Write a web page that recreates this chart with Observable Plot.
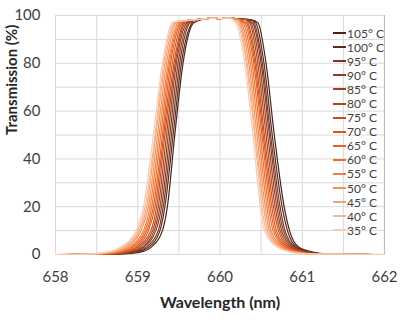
<!DOCTYPE html>
<html><head><meta charset="utf-8">
<script src="https://cdn.jsdelivr.net/npm/d3@7"></script>
<script src="https://cdn.jsdelivr.net/npm/@observablehq/plot@0.6"></script>
<style>
body{margin:0;background:#fff;font-family:Lato,"Open Sans",sans-serif;}
#wrap{position:relative;width:403px;height:327px;}
#legend{position:absolute;left:333px;top:26px;font-family:Lato,sans-serif;font-size:12px;color:#404040;}
#legend .row{height:14.1px;display:flex;align-items:center;}
#legend .sw{width:13px;height:2px;margin-right:1px;}
</style></head>
<body><div id="wrap"></div>
<script>
// Series labels (legend order) and colours
const temps = ["105° C","100° C","95° C","90° C","85° C","80° C","75° C","70° C","65° C","60° C","55° C","50° C","45° C","40° C","35° C"];
const colors = ["#4a2318","#5e2a1a","#7a3420","#8c3a20","#9c3f1f","#b0451e","#c84d1c","#dc541b","#e8601f","#ee6e2e","#f08040","#f29258","#f4a577","#f6b897","#f8cbb6"];

// Transmission levels (%) at which edge wavelengths were read
const riseT = [0.3, 1, 3, 10, 20, 50, 80, 97];
const fallT = [97, 80, 50, 20, 10, 3, 1, 0.3];

// Rising-edge wavelengths (nm) per series, same order as temps
const riseX = [
  [658.80,659.03,659.16,659.30,659.36,659.45,659.55,659.68],
  [658.77,658.99,659.13,659.27,659.33,659.43,659.53,659.66],
  [658.74,658.96,659.10,659.25,659.31,659.41,659.51,659.635],
  [658.72,658.93,659.07,659.22,659.29,659.39,659.49,659.62],
  [658.69,658.91,659.05,659.20,659.27,659.37,659.47,659.60],
  [658.67,658.88,659.02,659.18,659.25,659.35,659.455,659.58],
  [658.64,658.85,658.99,659.16,659.23,659.33,659.44,659.56],
  [658.62,658.82,658.97,659.13,659.21,659.315,659.42,659.545],
  [658.59,658.79,658.94,659.11,659.19,659.30,659.40,659.53],
  [658.57,658.77,658.92,659.09,659.17,659.28,659.385,659.51],
  [658.55,658.74,658.89,659.07,659.15,659.26,659.37,659.49],
  [658.52,658.71,658.86,659.04,659.13,659.24,659.35,659.47],
  [658.50,658.68,658.84,659.02,659.11,659.22,659.33,659.45],
  [658.47,658.65,658.81,659.00,659.09,659.21,659.315,659.435],
  [658.45,658.63,658.79,658.98,659.07,659.19,659.30,659.42]
];
// Falling-edge wavelengths (nm) per series
const fallX = [
  [660.46,660.56,660.66,660.78,660.845,660.96,661.13,661.30],
  [660.435,660.535,660.635,660.755,660.82,660.935,661.105,661.28],
  [660.415,660.515,660.615,660.73,660.79,660.915,661.085,661.26],
  [660.395,660.50,660.60,660.71,660.77,660.90,661.065,661.24],
  [660.375,660.48,660.58,660.69,660.75,660.88,661.045,661.22],
  [660.36,660.46,660.56,660.67,660.73,660.86,661.03,661.205],
  [660.34,660.44,660.54,660.65,660.71,660.84,661.01,661.19],
  [660.32,660.425,660.525,660.63,660.685,660.825,660.99,661.17],
  [660.30,660.41,660.51,660.61,660.665,660.81,660.97,661.15],
  [660.28,660.39,660.49,660.59,660.645,660.79,660.95,661.135],
  [660.26,660.37,660.47,660.57,660.62,660.77,660.93,661.12],
  [660.245,660.35,660.45,660.55,660.60,660.75,660.915,661.10],
  [660.225,660.33,660.43,660.53,660.58,660.73,660.895,661.08],
  [660.21,660.32,660.42,660.51,660.56,660.72,660.88,661.065],
  [660.19,660.30,660.40,660.49,660.54,660.70,660.86,661.05]
];
// Passband top (common ripple)
const topX = [659.5, 659.6, 659.7, 659.8, 659.9, 660.0, 660.1, 660.2, 660.3, 660.38];
const topT = [97.6, 97.9, 98.3, 98.5, 98.9, 98.7, 99.0, 98.6, 98.4, 98.2];
// Flat baseline ends
const baseX = [658, 662];

const xTicks = [658, 659, 660, 661, 662];
const yTicks = [0, 20, 40, 60, 80, 100];
const xGrid = [658, 658.5, 659, 659.5, 660, 660.5, 661, 661.5, 662];
const yGrid = [0, 10, 20, 30, 40, 50, 60, 70, 80, 90, 100];

const rows = [];
temps.forEach((t, i) => {
  rows.push({t, x: baseX[0], y: 0});
  riseX[i].forEach((x, k) => rows.push({t, x, y: riseT[k]}));
  const lo = riseX[i][riseX[i].length - 1], hi = fallX[i][0];
  topX.forEach((x, k) => { if (x > lo + 0.03 && x < hi - 0.03) rows.push({t, x, y: topT[k]}); });
  fallX[i].forEach((x, k) => rows.push({t, x, y: fallT[k]}));
  rows.push({t, x: baseX[1], y: 0});
});

const chart = Plot.plot({
  width: 403, height: 327,
  marginLeft: 55, marginRight: 19, marginTop: 15, marginBottom: 73,
  style: {fontFamily: "Lato, 'Open Sans', sans-serif", fontSize: "15px", color: "#404040", background: "#fff"},
  x: {domain: [658, 662]},
  y: {domain: [0, 100]},
  color: {domain: temps, range: colors},
  marks: [
    Plot.ruleX(xGrid, {stroke: "#d9d9d9", strokeWidth: 1}),
    Plot.ruleY(yGrid, {stroke: "#d9d9d9", strokeWidth: 1}),
    Plot.ruleX([662], {stroke: "#bdbdbd", strokeWidth: 1.2}),
    Plot.axisX({ticks: xTicks, tickSize: 0, tickPadding: 17, label: null, fontSize: 15, tickFormat: d => String(d)}),
    Plot.axisY({ticks: yTicks, tickSize: 0, tickPadding: 15, label: null, fontSize: 15}),
    Plot.line(rows, {x: "x", y: "y", z: "t", stroke: "t", strokeWidth: 1.2, curve: "monotone-x"}),
    Plot.text(["Wavelength (nm)"], {frameAnchor: "bottom", dy: 53, fontSize: 16, fontWeight: "bold", fill: "#262626"}),
    Plot.text(["Transmission (%)"], {frameAnchor: "left", dx: -43, rotate: -90, fontSize: 15, fontWeight: "bold", fill: "#262626"})
  ]
});
const wrap = document.getElementById("wrap");
wrap.appendChild(chart);
const leg = document.createElement("div");
leg.id = "legend";
temps.forEach((t, i) => {
  const r = document.createElement("div"); r.className = "row";
  const s = document.createElement("span"); s.className = "sw"; s.style.background = colors[i];
  const l = document.createElement("span"); l.textContent = t;
  r.appendChild(s); r.appendChild(l); leg.appendChild(r);
});
wrap.appendChild(leg);
</script></body></html>
